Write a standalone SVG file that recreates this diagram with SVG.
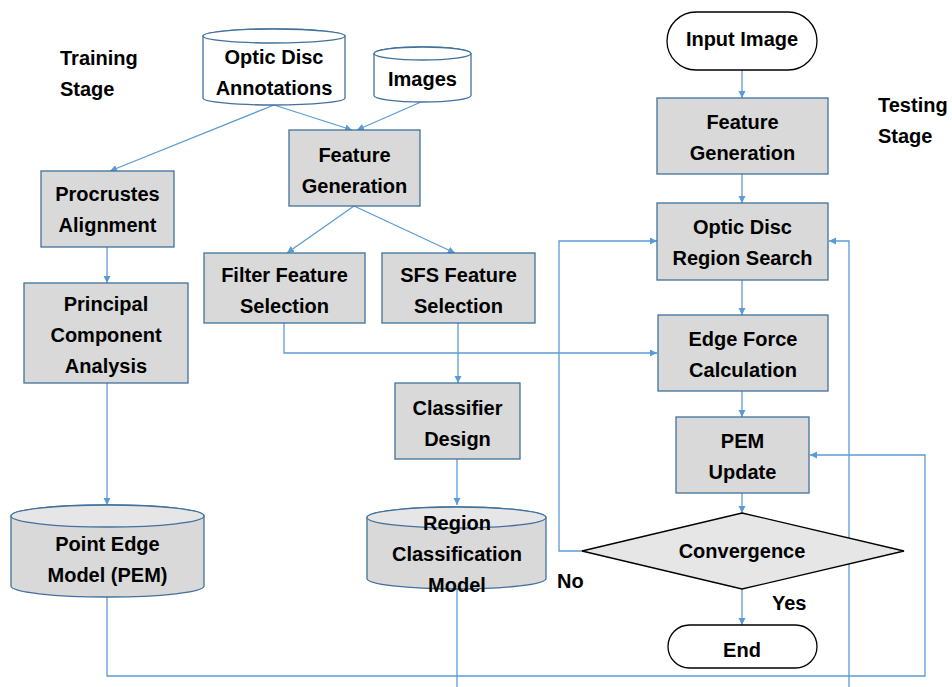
<svg xmlns="http://www.w3.org/2000/svg" width="952" height="687" viewBox="0 0 952 687">
<style>
.box{fill:#D9D9D9;stroke:#41719C;stroke-width:1.3}
.cylw{fill:#FFFFFF;stroke:#41719C;stroke-width:1.3}
.cylg{fill:#D9D9D9;stroke:#41719C;stroke-width:1.3}
.cyltop{fill:#E6E6E6;stroke:#41719C;stroke-width:1.3}
.term{fill:#FFFFFF;stroke:#000000;stroke-width:1.3}
.dia{fill:#E6E6E6;stroke:#000000;stroke-width:1.3}
.t{font-family:"Liberation Sans",Arial,sans-serif;font-weight:bold;font-size:20px;fill:#000000;text-anchor:middle}
.l{font-family:"Liberation Sans",Arial,sans-serif;font-weight:bold;font-size:20px;fill:#000000}
.c{fill:none;stroke:#5B9BD5;stroke-width:1.3}
.ca{fill:none;stroke:#5B9BD5;stroke-width:1.3;marker-end:url(#ah)}
</style>
<defs>
<marker id="ah" markerWidth="8" markerHeight="8" refX="7" refY="3.5" orient="auto" markerUnits="userSpaceOnUse">
<path d="M0,0 L7,3.5 L0,7 z" fill="#5B9BD5"/>
</marker>
</defs>

<g id="labels">
<text class="l" x="60" y="65">Training</text>
<text class="l" x="60" y="96">Stage</text>
<text class="l" x="878" y="112">Testing</text>
<text class="l" x="878" y="143">Stage</text>
<text class="l" x="557" y="588">No</text>
<text class="l" x="772" y="610">Yes</text>
</g>

<g id="connectors">
<line class="ca" x1="274" y1="105" x2="110" y2="171"/>
<line class="ca" x1="274" y1="105" x2="352" y2="130"/>
<line class="ca" x1="421" y1="102" x2="357" y2="130"/>
<line class="ca" x1="354" y1="206" x2="287" y2="253"/>
<line class="ca" x1="354" y1="206" x2="455" y2="253"/>
<line class="ca" x1="107" y1="247" x2="107" y2="283"/>
<line class="ca" x1="107" y1="383" x2="107" y2="505"/>
<polyline class="ca" points="284,323 284,353 657,353"/>
<line class="ca" x1="458" y1="323" x2="458" y2="383"/>
<line class="ca" x1="457" y1="459" x2="457" y2="505"/>
<line class="c" x1="457" y1="589" x2="457" y2="687"/>
<polyline class="ca" points="849,687 849,241 829,241"/>
<polyline class="ca" points="107,597 107,676 925,676 925,455 810,455"/>
<line class="ca" x1="742" y1="70" x2="742" y2="98"/>
<line class="ca" x1="742" y1="174" x2="742" y2="203"/>
<line class="ca" x1="742" y1="280" x2="742" y2="315"/>
<line class="ca" x1="742" y1="391" x2="742" y2="417"/>
<line class="ca" x1="742" y1="493" x2="742" y2="513"/>
<polyline class="ca" points="582,551 559,551 559,241 657,241"/>
<line class="ca" x1="742" y1="589" x2="742" y2="625"/>
</g>

<g id="optic-disc-annotations">
<path class="cylw" d="M203,36 L203,98 A71,7 0 0 0 345,98 L345,36 A71,7 0 0 0 203,36 Z"/>
<ellipse class="cylw" cx="274" cy="36" rx="71" ry="7"/>
<text class="t" x="274" y="64">Optic Disc</text>
<text class="t" x="274" y="95">Annotations</text>
</g>

<g id="images">
<path class="cylw" d="M374,53.5 L374,95.5 A48.5,6.5 0 0 0 471,95.5 L471,53.5 A48.5,6.5 0 0 0 374,53.5 Z"/>
<ellipse class="cylw" cx="422.5" cy="53.5" rx="48.5" ry="6.5"/>
<text class="t" x="422.5" y="86">Images</text>
</g>

<g id="procrustes">
<rect class="box" x="41" y="171" width="133" height="76"/>
<text class="t" x="107.5" y="201">Procrustes</text>
<text class="t" x="107.5" y="232">Alignment</text>
</g>

<g id="feature-generation-train">
<rect class="box" x="289" y="130" width="131" height="76"/>
<text class="t" x="354.5" y="162">Feature</text>
<text class="t" x="354.5" y="193">Generation</text>
</g>

<g id="filter-feature">
<rect class="box" x="204" y="253" width="161" height="70"/>
<text class="t" x="284.5" y="282">Filter Feature</text>
<text class="t" x="284.5" y="313">Selection</text>
</g>

<g id="sfs-feature">
<rect class="box" x="382" y="253" width="153" height="70"/>
<text class="t" x="458.5" y="282">SFS Feature</text>
<text class="t" x="458.5" y="313">Selection</text>
</g>

<g id="pca">
<rect class="box" x="24" y="283" width="164" height="100"/>
<text class="t" x="106" y="311">Principal</text>
<text class="t" x="106" y="342">Component</text>
<text class="t" x="106" y="373">Analysis</text>
</g>

<g id="classifier-design">
<rect class="box" x="395" y="383" width="125" height="76"/>
<text class="t" x="457.5" y="415">Classifier</text>
<text class="t" x="457.5" y="446">Design</text>
</g>

<g id="point-edge-model">
<path class="cylg" d="M11,516 L11,586 A96.5,11 0 0 0 204,586 L204,516 A96.5,11 0 0 0 11,516 Z"/>
<ellipse class="cyltop" cx="107.5" cy="516" rx="96.5" ry="11"/>
<text class="t" x="107.5" y="551">Point Edge</text>
<text class="t" x="107.5" y="582">Model (PEM)</text>
</g>

<g id="region-classification-model">
<path class="cylg" d="M367,517.5 L367,578.5 A89.5,10.5 0 0 0 546,578.5 L546,517.5 A89.5,10.5 0 0 0 367,517.5 Z"/>
<ellipse class="cyltop" cx="456.5" cy="517.5" rx="89.5" ry="10.5"/>
<text class="t" x="457" y="530">Region</text>
<text class="t" x="457" y="561">Classification</text>
<text class="t" x="457" y="592">Model</text>
</g>

<g id="input-image">
<rect class="term" x="667" y="12" width="150" height="58" rx="29" ry="29"/>
<text class="t" x="742" y="46">Input Image</text>
</g>

<g id="feature-generation-test">
<rect class="box" x="657" y="98" width="171" height="76"/>
<text class="t" x="742.5" y="129">Feature</text>
<text class="t" x="742.5" y="160">Generation</text>
</g>

<g id="region-search">
<rect class="box" x="657" y="203" width="171" height="77"/>
<text class="t" x="742.5" y="234">Optic Disc</text>
<text class="t" x="742.5" y="265">Region Search</text>
</g>

<g id="edge-force">
<rect class="box" x="658" y="315" width="170" height="76"/>
<text class="t" x="743" y="346">Edge Force</text>
<text class="t" x="743" y="377">Calculation</text>
</g>

<g id="pem-update">
<rect class="box" x="676" y="417" width="133" height="76"/>
<text class="t" x="742.5" y="448">PEM</text>
<text class="t" x="742.5" y="479">Update</text>
</g>

<g id="convergence">
<polygon class="dia" points="742,513 904,551 742,589 582,551"/>
<text class="t" x="742" y="558">Convergence</text>
</g>

<g id="end">
<rect class="term" x="668" y="625" width="149" height="43" rx="21.5" ry="21.5"/>
<text class="t" x="742" y="657">End</text>
</g>
</svg>
